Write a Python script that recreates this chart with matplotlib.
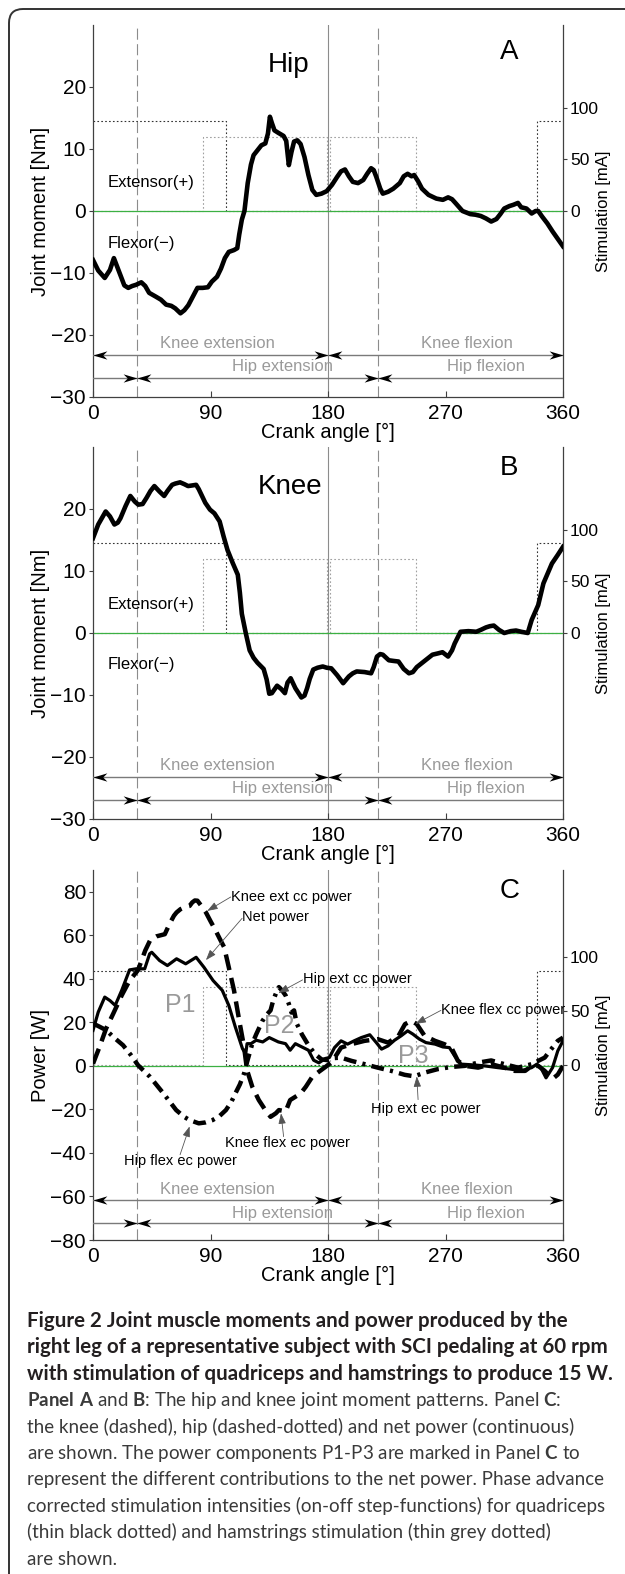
import matplotlib
matplotlib.use("Agg")
import matplotlib.pyplot as plt
from matplotlib.patches import FancyBboxPatch
from matplotlib.path import Path
from matplotlib.transforms import IdentityTransform

# ---------------------------------------------------------------- data
# crank angle [deg] / hip joint moment [Nm]  (panel A)
HIP_ANGLE = [0, 4, 9, 13, 16, 20, 24, 27, 30, 33, 37, 40, 43, 48, 52, 56, 60, 63, 67, 70,
             73, 77, 80, 84, 88, 91, 95, 98, 101, 104, 108, 110.5, 112, 114, 116, 118.5, 121,
             123, 126, 129, 132, 134, 135.5, 137, 139, 142, 146, 148, 150, 152, 154, 156.5,
             159, 162, 165, 168, 171, 175, 179, 183, 187, 190, 193, 196, 199, 203, 207, 210,
             213, 215, 217, 220, 222, 226, 230, 235, 238, 241, 244, 246, 249, 252, 257, 263,
             268, 272, 275, 278, 283, 289, 293, 297, 301, 305, 309, 312, 315, 319, 322, 325.5,
             328, 332, 336, 339, 341, 344, 348, 352, 356, 360]
HIP_MOMENT = [-7.9, -9.6, -10.8, -9.5, -7.6, -9.8, -12.0, -12.4, -12.1, -11.9, -11.5, -12.1,
              -13.2, -13.8, -14.3, -15.1, -15.3, -15.7, -16.5, -16.0, -15.2, -13.6, -12.4,
              -12.4, -12.3, -11.4, -10.6, -9.3, -7.6, -6.6, -6.3, -6.0, -3.8, -1.4, 0.0, 4.5,
              7.5, 9.0, 9.8, 10.6, 10.9, 12.5, 15.2, 14.2, 13.0, 12.6, 12.1, 11.3, 7.4, 9.5,
              11.2, 11.4, 10.8, 8.7, 5.8, 3.4, 2.6, 2.8, 3.2, 4.2, 5.5, 6.4, 6.7, 5.6, 4.7,
              4.5, 5.0, 6.0, 6.9, 6.6, 5.5, 3.6, 2.8, 3.1, 3.6, 4.5, 5.6, 6.0, 5.6, 5.8, 4.8,
              3.6, 2.6, 2.0, 1.8, 2.2, 1.9, 1.2, 0.0, -0.5, -0.6, -0.8, -1.2, -1.7, -1.3, -0.5,
              0.4, 0.8, 1.0, 1.3, 0.6, 0.4, -0.4, 0.0, 0.0, -0.9, -2.0, -3.3, -4.5, -5.7]

# crank angle [deg] / knee joint moment [Nm]  (panel B)
KNEE_ANGLE = [0, 4, 9.7, 13, 16.4, 19, 21, 25, 28.6, 32, 34.7, 38, 41, 44, 47, 51, 54.5, 57,
              60.6, 63, 66.7, 70, 72.8, 76, 79, 81, 83.5, 86, 89.6, 93, 97, 100, 103, 107,
              110.9, 112.5, 114, 117, 120, 123, 126, 130.7, 133, 135, 137, 141, 144, 147, 149,
              151.4, 155, 159.6, 162, 164, 166, 168.7, 172, 176, 179, 182.5, 187, 191.6, 196,
              199, 202, 208, 213, 215, 217.5, 220, 222, 226.6, 230, 234, 238, 242, 245, 248,
              254, 260, 264, 267.7, 272, 275, 277, 281.5, 287.5, 293.6, 297, 301, 304, 307,
              311, 315, 320, 324, 328, 333, 336, 341, 345, 351.5, 356, 360]
KNEE_MOMENT = [15.3, 17.5, 19.6, 18.8, 17.5, 17.8, 18.5, 20.5, 22.1, 21.2, 20.7, 20.8, 21.8,
               22.9, 23.7, 22.8, 22.1, 22.9, 23.9, 24.1, 24.3, 24.0, 23.7, 23.8, 23.9, 23.2,
               22.1, 21.0, 19.9, 19.3, 18.0, 15.6, 13.4, 11.3, 9.4, 6.5, 3.1, 0.0, -2.8, -4.0,
               -4.8, -5.8, -7.5, -9.8, -9.7, -8.5, -9.0, -9.7, -8.0, -7.3, -8.9, -10.4, -10.1,
               -8.9, -7.4, -5.9, -5.6, -5.4, -5.6, -5.7, -6.8, -8.1, -7.0, -6.5, -6.2, -6.3,
               -6.5, -5.5, -3.8, -3.4, -3.5, -4.4, -4.5, -4.6, -5.8, -6.5, -6.3, -5.5, -4.5,
               -3.5, -3.3, -3.1, -3.8, -2.8, -1.7, 0.2, 0.3, 0.2, 0.5, 0.9, 1.1, 1.2, 0.5, 0.0,
               0.3, 0.4, 0.2, 0.0, 2.1, 4.5, 8.0, 11.2, 12.6, 13.9]

# panel C: net power [W]
NET_ANGLE = [0, 4, 9, 13, 17, 22, 28, 33, 39.6, 43.4, 45, 51, 57, 64, 71, 79, 85, 92, 99, 104,
             109, 114.5, 117, 118, 121, 125, 130, 135, 142, 147.5, 151, 155, 160, 165, 169,
             173, 178, 181, 185, 190, 195, 200, 205.5, 212, 217, 221, 226, 231, 236, 241, 245,
             250, 255, 262, 268, 273, 277, 282, 290, 300, 310, 320, 328, 336, 340, 343, 347,
             352, 356, 360]
NET_POWER = [16.3, 24.7, 31.6, 30.0, 27.8, 34.7, 44.1, 44.6, 44.6, 51.5, 52.2, 48.4, 46.1,
             49.2, 46.9, 49.9, 45.3, 39.2, 34.7, 27.8, 17.9, 7.9, 5.6, 10.2, 10.2, 11.8, 11.0,
             13.0, 11.0, 10.2, 7.2, 10.2, 8.7, 7.2, 2.6, 1.4, 3.4, 3.8, 8.4, 11.5, 10.0, 11.5,
             13.0, 14.3, 10.7, 7.7, 9.2, 11.8, 13.8, 16.1, 14.6, 12.3, 10.7, 10.0, 8.7, 8.4,
             4.6, 0.8, 0.5, 0.0, -0.8, -1.5, -2.3, -0.8, 0.8, -0.8, -5.5, -0.8, 6.9, 11.5]

# panel C: knee power [W]
KNEE_P_ANGLE = [0, 5, 10, 15.5, 22, 28, 34.5, 40, 44, 48.5, 55, 58.6, 62, 64, 67, 71, 74, 76,
                78, 80, 83, 86.5, 90, 94, 97, 100.5, 104, 108, 112, 115.7, 118, 122, 127, 132,
                136, 140, 142.4, 145, 147.5, 151, 155, 159, 163, 168, 173, 178, 183, 190, 198,
                208, 218, 226, 234, 239, 244, 248, 254, 262, 269, 274.5, 279.5, 285, 295, 305,
                315, 323, 331, 336, 341, 346, 352, 356, 360]
KNEE_POWER = [1.0, 8.7, 17.1, 24.0, 32.4, 39.2, 44.0, 53.0, 58.0, 59.5, 60.5, 65.2, 69.0,
              70.5, 72.0, 73.1, 73.5, 75.1, 76.0, 75.9, 73.5, 70.5, 66.5, 62.1, 58.5, 54.5,
              45.3, 34.7, 20.9, 8.7, -2.0, -9.6, -15.7, -20.3, -23.4, -21.8, -20.3, -20.6,
              -21.0, -15.7, -14.2, -12.7, -9.6, -5.0, -2.7, -0.5, 1.8, 8.4, 10.0, 11.5, 12.3,
              10.7, 13.8, 19.2, 20.7, 19.2, 13.8, 11.5, 10.0, 8.4, 2.3, 0.0, -0.8, 0.8, -0.8,
              -2.3, -2.3, 0.0, 0.0, -2.3, -6.0, -4.0, 0.0]

# panel C: hip power [W]
HIP_P_ANGLE = [0, 5, 10.4, 15.5, 23, 29, 34.5, 43.6, 54, 63.7, 70, 74, 81, 86, 91.6, 97, 101.8,
               106, 109, 112.5, 115.7, 118, 122, 125, 129.7, 133, 136, 138, 141, 142.4, 145,
               147.5, 150, 152, 154, 156, 160, 165, 170, 175, 180, 185, 190, 198, 208, 218,
               228.5, 238.7, 246, 254, 264, 274.5, 284.7, 295, 305, 315, 325.6, 336, 341, 346,
               351, 356, 360]
HIP_POWER = [19.5, 18.0, 16.3, 13.3, 9.5, 5.0, 0.3, -5.0, -12.7, -20.3, -23.5, -24.9, -26.4,
             -26.0, -24.9, -23.0, -20.3, -16.5, -12.7, -8.5, -3.5, 1.8, 10.2, 14.5, 20.6, 23.5,
             25.5, 30.0, 34.7, 36.2, 34.5, 32.4, 28.5, 24.5, 25.5, 19.5, 14.5, 9.5, 5.5, 3.0,
             2.6, 3.6, 3.8, 2.3, 0.8, -0.8, -2.3, -4.1, -4.8, -3.1, -1.5, -0.5, 0.0, 1.5, 2.5,
             0.8, -0.8, 0.8, 2.3, 3.8, 7.7, 11.5, 13.0]

# stimulation step functions [mA] (steps-post edges)
QUAD_EDGES = [0, 102, 340, 360]
QUAD_MA = [87, 0, 87, 87]
HAM_EDGES = [0, 84, 179.5, 181.5, 247.5, 360]
HAM_MA = [0, 72, 0, 72, 0, 0]

PEDAL_MARKS = [34, 218]
KNEE_BOUNDS = [0, 180, 360]
HIP_BOUNDS = [34, 218]
PHASE_NAMES = ["Knee extension", "Knee flexion", "Hip extension", "Hip flexion"]
PHASE_TEXT_X = [95.3, 286.4, 145, 301.2]

C_NOTES = ["Knee ext cc power", "Net power", "Hip ext cc power", "Knee flex cc power",
           "Hip ext ec power", "Knee flex ec power", "Hip flex ec power"]
C_NOTE_XY = [(105.5, 77.8), (114.2, 68.3), (160.5, 39.8), (266.5, 25.7),
             (212.7, -19.9), (101, -35.6), (24, -43.9)]
C_ARROW_FROM = [(105.5, 77.6), (114.2, 67.8), (160.5, 39.5), (266.5, 25.5),
                (249, -15.5), (146, -32.5), (66.7, -40.8)]
C_ARROW_TO = [(87.5, 71.2), (86.5, 48.6), (142, 33.5), (247, 19.3),
              (248, -4.8), (144, -21.8), (74, -27.8)]

CAPTION_BOLD = [
    "Figure 2 Joint muscle moments and power produced by the",
    "right leg of a representative subject with SCI pedaling at 60 rpm",
    "with stimulation of quadriceps and hamstrings to produce 15 W.",
]
CAPTION_BODY = [
    r"$\mathbf{Panel\ A}$ and $\mathbf{B}$: The hip and knee joint moment patterns. Panel $\mathbf{C}$:",
    "the knee (dashed), hip (dashed-dotted) and net power (continuous)",
    r"are shown. The power components P1-P3 are marked in Panel $\mathbf{C}$ to",
    "represent the different contributions to the net power. Phase advance",
    "corrected stimulation intensities (on-off step-functions) for quadriceps",
    "(thin black dotted) and hamstrings stimulation (thin grey dotted)",
    "are shown.",
]

# ---------------------------------------------------------------- style
plt.rcParams["font.family"] = ["Liberation Sans", "DejaVu Sans"]
plt.rcParams["mathtext.fontset"] = "custom"
plt.rcParams["mathtext.rm"] = "Lato"
plt.rcParams["mathtext.bf"] = "Lato:bold"

W, H = 625, 1574
GREY = "#8c8c8c"
SPINE = "#404040"

HEAD_R = Path([(0, 0), (-1, 0.3), (-0.7, 0), (-1, -0.3), (0, 0)],
              [Path.MOVETO, Path.LINETO, Path.LINETO, Path.LINETO, Path.CLOSEPOLY])
HEAD_L = Path([(0, 0), (1, 0.3), (0.7, 0), (1, -0.3), (0, 0)],
              [Path.MOVETO, Path.LINETO, Path.LINETO, Path.LINETO, Path.CLOSEPOLY])

fig = plt.figure(figsize=(W / 100, H / 100), dpi=100)
renderer = fig.canvas.get_renderer()

# rounded frame (only top/left edges are inside the picture)
fig.add_artist(FancyBboxPatch((9, -40), 800, H - 9 + 40,
                              boxstyle="round,pad=0,rounding_size=14",
                              transform=IdentityTransform(), fill=False,
                              ec="#333333", lw=1.4))


def rect(top, bottom, left=93, right=563):
    return [left / W, 1 - bottom / H, (right - left) / W, (bottom - top) / H]


def phase_bar(ax, y, heads_r, heads_l):
    ax.plot([0, 360], [y, y], color="#7a7a7a", lw=1.0, zorder=3)
    for x in heads_r:
        ax.plot(x, y, marker=HEAD_R, ms=20, color="k", mew=0, zorder=4, clip_on=False)
    for x in heads_l:
        ax.plot(x, y, marker=HEAD_L, ms=20, color="k", mew=0, zorder=4, clip_on=False)


def panel(r, ylim, yticks, ylabel, stim_ylim, knee_y, hip_y, knee_ty, hip_ty):
    ax = fig.add_axes(r)
    ax2 = ax.twinx()
    ax.set_zorder(ax2.get_zorder() + 1)
    ax.patch.set_visible(False)

    ax.set_xlim(0, 360)
    ax.set_ylim(*ylim)
    ax.set_xticks([0, 90, 180, 270, 360])
    ax.set_yticks(yticks)
    ax2.set_ylim(*stim_ylim)
    ax2.set_yticks([0, 50, 100])

    for a in (ax, ax2):
        a.spines["top"].set_visible(False)
        for s in a.spines.values():
            s.set_color(SPINE)
            s.set_linewidth(0.9)
    ax.spines["right"].set_visible(False)
    ax2.spines["left"].set_visible(False)
    ax2.spines["bottom"].set_visible(False)

    ax.tick_params(axis="x", direction="in", length=4, width=0.8, pad=5,
                   labelsize=15, color=SPINE)
    ax.tick_params(axis="y", direction="out", length=3, width=0.8, pad=2,
                   labelsize=15, color=SPINE)
    ax2.tick_params(axis="y", direction="out", length=3, width=0.8, pad=2,
                    labelsize=12.5, color=SPINE)

    ax.set_xlabel("Crank angle [°]", fontsize=14.5)
    ax.xaxis.set_label_coords(0.5, -0.07)
    ax.set_ylabel(ylabel, fontsize=14.5)
    ax.yaxis.set_label_coords(-0.092, 0.5)
    ax2.set_ylabel("Stimulation [mA]", fontsize=12)
    ax2.yaxis.set_label_coords(1.07, 0.5)

    # stimulation (right axis)
    ax2.plot(QUAD_EDGES, QUAD_MA, drawstyle="steps-post", color="#333333",
             lw=0.8, ls=(0, (1.5, 2)))
    ax2.plot(HAM_EDGES, HAM_MA, drawstyle="steps-post", color="#a0a0a0",
             lw=0.8, ls=(0, (1.5, 2)))

    # reference lines
    for a in PEDAL_MARKS:
        ax.axvline(a, color=GREY, lw=0.8, dashes=(10, 4), zorder=1)
    ax.axvline(180, color=GREY, lw=0.8, zorder=1)
    ax.axhline(0, color="#3cb043", lw=0.9, zorder=1)

    # phase arrows
    phase_bar(ax, knee_y, [KNEE_BOUNDS[1], KNEE_BOUNDS[2]], [KNEE_BOUNDS[0], KNEE_BOUNDS[1]])
    phase_bar(ax, hip_y, HIP_BOUNDS, HIP_BOUNDS)
    ty = [knee_ty, knee_ty, hip_ty, hip_ty]
    for name, x, y in zip(PHASE_NAMES, PHASE_TEXT_X, ty):
        ax.text(x, y, name, ha="center", va="center", fontsize=12, color="#9a9a9a", zorder=2)
    return ax


# ---- panel A
axA = panel(rect(25, 397), (-30, 30), range(-30, 21, 10), "Joint moment [Nm]",
            (-180, 180), -23.2, -26.9, -21.45, -25.1)
axA.plot(HIP_ANGLE, HIP_MOMENT, color="k", lw=3.3, solid_joinstyle="round", zorder=5)
axA.text(150, 23.5, "Hip", fontsize=20, ha="center", va="center")
axA.text(319, 25.6, "A", fontsize=20, ha="center", va="center")
axA.text(11.5, 4.6, "Extensor(+)", fontsize=12, ha="left", va="center")
axA.text(11.5, -5.2, "Flexor(−)", fontsize=12, ha="left", va="center")

# ---- panel B
axB = panel(rect(447, 819), (-30, 30), range(-30, 21, 10), "Joint moment [Nm]",
            (-180, 180), -23.2, -26.9, -21.45, -25.1)
axB.plot(KNEE_ANGLE, KNEE_MOMENT, color="k", lw=3.3, solid_joinstyle="round", zorder=5)
axB.text(150.6, 23.5, "Knee", fontsize=20, ha="center", va="center")
axB.text(319, 26.6, "B", fontsize=20, ha="center", va="center")
axB.text(11.5, 4.6, "Extensor(+)", fontsize=12, ha="left", va="center")
axB.text(11.5, -5.0, "Flexor(−)", fontsize=12, ha="left", va="center")

# ---- panel C
axC = panel(rect(870, 1240), (-80, 90), range(-80, 81, 20), "Power [W]",
            (-162.5, 181), -61.6, -72.4, -56.6, -67.6)
axC.plot(NET_ANGLE, NET_POWER, color="k", lw=2.3, solid_joinstyle="round", zorder=5)
axC.plot(KNEE_P_ANGLE, KNEE_POWER, color="k", lw=3.2, dashes=(3.6, 1.8), zorder=5)
axC.plot(HIP_P_ANGLE, HIP_POWER, color="k", lw=3.2, dashes=(2.9, 1.4, 0.7, 1.4), zorder=5)
axC.text(319, 80.5, "C", fontsize=20, ha="center", va="center")
for lab, x, y in zip(["P1", "P2", "P3"], [66.5, 143, 245.5], [28.0, 18.4, 4.6]):
    axC.text(x, y, lab, fontsize=18, color="#9a9a9a", ha="center", va="center", zorder=2)
for lab, xy, a0, a1 in zip(C_NOTES, C_NOTE_XY, C_ARROW_FROM, C_ARROW_TO):
    axC.text(xy[0], xy[1], lab, fontsize=10.5, ha="left", va="center", zorder=6)
    axC.annotate("", xy=a1, xytext=a0, zorder=6,
                 arrowprops=dict(arrowstyle="-|>,head_length=0.7,head_width=0.25",
                                 color="#555555", lw=0.6, shrinkA=0, shrinkB=0,
                                 mutation_scale=9))

# ---------------------------------------------------------------- caption
def fit_size(text, target, **kw):
    t = fig.text(0, 0, text, fontsize=20, **kw)
    w = t.get_window_extent(renderer).width
    t.remove()
    return 20 * target / w


bold_size = fit_size(CAPTION_BOLD[1], 580, family="Lato", weight="bold")
body_size = fit_size(CAPTION_BODY[3], 580, family="Lato")

x0 = 27
for i, line in enumerate(CAPTION_BOLD + CAPTION_BODY):
    y = 1318 + 26.4 * i + 9
    if i < len(CAPTION_BOLD):
        fig.text(x0 / W, 1 - y / H, line, fontsize=bold_size, family="Lato",
                 weight="bold", color="#231f20", va="baseline", ha="left")
    else:
        fig.text(x0 / W, 1 - y / H, line, fontsize=body_size, family="Lato",
                 color="#3a3a3a", va="baseline", ha="left")

fig.savefig("out.png", dpi=100)
